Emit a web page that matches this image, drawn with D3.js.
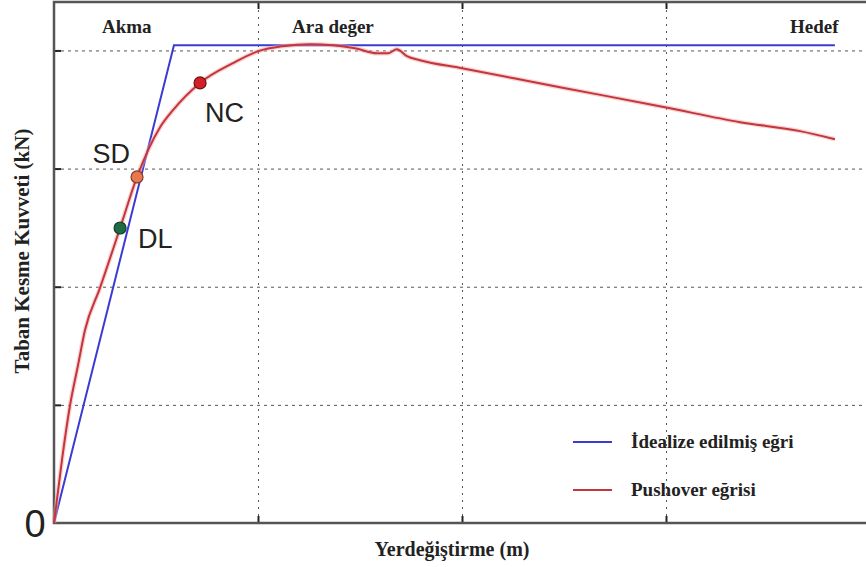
<!DOCTYPE html>
<html>
<head>
<meta charset="utf-8">
<script src="https://cdn.jsdelivr.net/npm/d3@7"></script>
<style>
  body { margin: 0; background: #fff; }
  svg { display: block; }
</style>
</head>
<body>
<div class="canvas"></div>
<script>
/* Pushover egrisi - D3 */

// data (x: yerdegistirme, y: taban kesme kuvveti, grid units)
var pushX = [0, 0.039, 0.078, 0.118, 0.152, 0.225, 0.324, 0.407, 0.520, 0.583, 0.716, 0.877, 1.0, 1.123, 1.255, 1.368, 1.475, 1.583, 1.637, 1.681, 1.730, 1.794, 2.0, 2.48, 2.995, 3.363, 3.657, 3.828];
var pushY = [0, 0.533, 0.990, 1.337, 1.633, 1.988, 2.497, 2.929, 3.350, 3.494, 3.725, 3.892, 3.993, 4.036, 4.052, 4.044, 4.019, 3.976, 3.976, 4.010, 3.951, 3.917, 3.849, 3.689, 3.519, 3.393, 3.317, 3.249];

var idealX = [0, 0.588, 3.828];
var idealY = [0, 4.044, 4.044];

var perfNames = ['DL', 'SD', 'NC'];
var perfX = [0.324, 0.407, 0.716];
var perfY = [2.497, 2.929, 3.725];

var stageNames = ['Akma', 'Ara değer', 'Hedef'];
var gridX = [1, 2, 3];
var gridY = [1, 2, 3, 4];
var legendNames = ['İdealize edilmiş eğri', 'Pushover eğrisi'];

var W = 866, H = 567;
var margin = {t:2, r:-4, b:44, l:54};
var width = W - margin.l - margin.r,
    height = H - margin.t - margin.b;

var svg = d3.select('.canvas')
    .append('svg')
    .attr('width', W)
    .attr('height', H);

var plot = svg.append('g')
    .attr('transform', 'translate(' + margin.l + ',' + margin.t + ')');

var x = d3.scaleLinear().domain([0, 4]).range([0, width]);
var y = d3.scaleLinear().domain([0, 4.41]).range([height, 0]);

var serif = '"Liberation Serif", "Times New Roman", serif';
var sans = '"Liberation Sans", Arial, sans-serif';

// grid
plot.append('g')
    .attr('transform', 'translate(0,' + height + ')')
    .call(d3.axisBottom(x).tickValues(gridX).tickSize(-height).tickFormat(''))
    .call(function(g){
        g.select('.domain').remove();
        g.selectAll('line').attr('stroke', '#555').attr('stroke-dasharray', '2,5');
    });
plot.append('g')
    .call(d3.axisLeft(y).tickValues(gridY).tickSize(-width).tickFormat(''))
    .call(function(g){
        g.select('.domain').remove();
        g.selectAll('line').attr('stroke', '#555').attr('stroke-dasharray', '3,4');
    });

// small ticks on the frame
plot.append('g')
    .call(d3.axisLeft(y).tickValues(gridY).tickSize(-7).tickFormat(''))
    .call(function(g){ g.select('.domain').remove(); g.selectAll('line').attr('stroke', '#222').attr('stroke-width', 2); });
plot.append('g')
    .attr('transform', 'translate(0,' + height + ')')
    .call(d3.axisBottom(x).tickValues(gridX).tickSize(-7).tickFormat(''))
    .call(function(g){ g.select('.domain').remove(); g.selectAll('line').attr('stroke', '#222').attr('stroke-width', 2); });
plot.append('g')
    .call(d3.axisTop(x).tickValues(gridX).tickSize(-7).tickFormat(''))
    .call(function(g){ g.select('.domain').remove(); g.selectAll('line').attr('stroke', '#222').attr('stroke-width', 2); });

// frame
plot.append('rect')
    .attr('x', 0).attr('y', 0)
    .attr('width', width).attr('height', height)
    .attr('fill', 'none')
    .attr('stroke', '#555')
    .attr('stroke-width', 2.5);

// curves
var ideal = idealX.map(function(d, i){ return [d, idealY[i]]; });
var push = pushX.map(function(d, i){ return [d, pushY[i]]; });

var line = d3.line()
    .x(function(d){ return x(d[0]); })
    .y(function(d){ return y(d[1]); });
var smooth = d3.line()
    .curve(d3.curveMonotoneX)
    .x(function(d){ return x(d[0]); })
    .y(function(d){ return y(d[1]); });

plot.append('path')
    .attr('d', line(ideal))
    .attr('fill', 'none')
    .attr('stroke', '#3b3bd4')
    .attr('stroke-width', 2);

plot.append('path')
    .attr('d', smooth(push))
    .attr('fill', 'none')
    .attr('stroke', '#f2a8a8')
    .attr('stroke-opacity', 0.5)
    .attr('stroke-width', 4.5);
plot.append('path')
    .attr('d', smooth(push))
    .attr('fill', 'none')
    .attr('stroke', '#c4353c')
    .attr('stroke-width', 2);

// performance points
var perfFill = {DL:'#1e6b45', SD:'#e8784f', NC:'#d41f26'};
var perfStroke = {DL:'#173a2a', SD:'#8c3a22', NC:'#6a1014'};
var labelDx = {DL:18, SD:-7, NC:5};
var labelDy = {DL:20, SD:-14, NC:39};
var labelAnchor = {DL:'start', SD:'end', NC:'start'};

var pts = plot.selectAll('.perf')
    .data(perfNames)
    .enter()
    .append('g')
    .attr('class', 'perf')
    .attr('transform', function(d, i){ return 'translate(' + x(perfX[i]) + ',' + y(perfY[i]) + ')'; });

pts.append('circle')
    .attr('r', 6)
    .attr('fill', function(d){ return perfFill[d]; })
    .attr('stroke', function(d){ return perfStroke[d]; })
    .attr('stroke-width', 1.2);

pts.append('text')
    .attr('x', function(d){ return labelDx[d]; })
    .attr('y', function(d){ return labelDy[d]; })
    .attr('text-anchor', function(d){ return labelAnchor[d]; })
    .style('font-family', sans)
    .style('font-size', '27px')
    .style('fill', '#222')
    .text(function(d){ return d; });

// stage labels on top
var stageX = [48, 238, 736];
plot.selectAll('.stage')
    .data(stageNames)
    .enter()
    .append('text')
    .attr('class', 'stage')
    .attr('x', function(d, i){ return stageX[i]; })
    .attr('y', 31)
    .style('font-family', serif)
    .style('font-weight', 'bold')
    .style('font-size', '19px')
    .style('fill', '#222')
    .text(function(d){ return d; });

// zero label
svg.append('text')
    .attr('x', 35).attr('y', 537)
    .attr('text-anchor', 'middle')
    .style('font-family', sans)
    .style('font-size', '38px')
    .style('fill', '#222')
    .text('0');

// axis titles
svg.append('text')
    .attr('x', 452).attr('y', 556)
    .attr('text-anchor', 'middle')
    .style('font-family', serif)
    .style('font-weight', 'bold')
    .style('font-size', '20px')
    .style('fill', '#222')
    .text('Yerdeğiştirme (m)');

svg.append('text')
    .attr('transform', 'translate(29,251) rotate(-90)')
    .attr('text-anchor', 'middle')
    .style('font-family', serif)
    .style('font-weight', 'bold')
    .style('font-size', '21px')
    .style('fill', '#222')
    .text('Taban Kesme Kuvveti (kN)');

// legend
var legColor = ['#3b3bd4', '#c4353c'];
var leg = svg.selectAll('.legend')
    .data(legendNames)
    .enter()
    .append('g')
    .attr('class', 'legend')
    .attr('transform', function(d, i){ return 'translate(573,' + (442 + i * 48) + ')'; });

leg.append('line')
    .attr('x1', 0).attr('x2', 39)
    .attr('stroke', function(d, i){ return legColor[i]; })
    .attr('stroke-width', 2);

leg.append('text')
    .attr('x', 58).attr('y', 6)
    .style('font-family', serif)
    .style('font-weight', 'bold')
    .style('font-size', '19px')
    .style('fill', '#222')
    .text(function(d){ return d; });
</script>
</body>
</html>
